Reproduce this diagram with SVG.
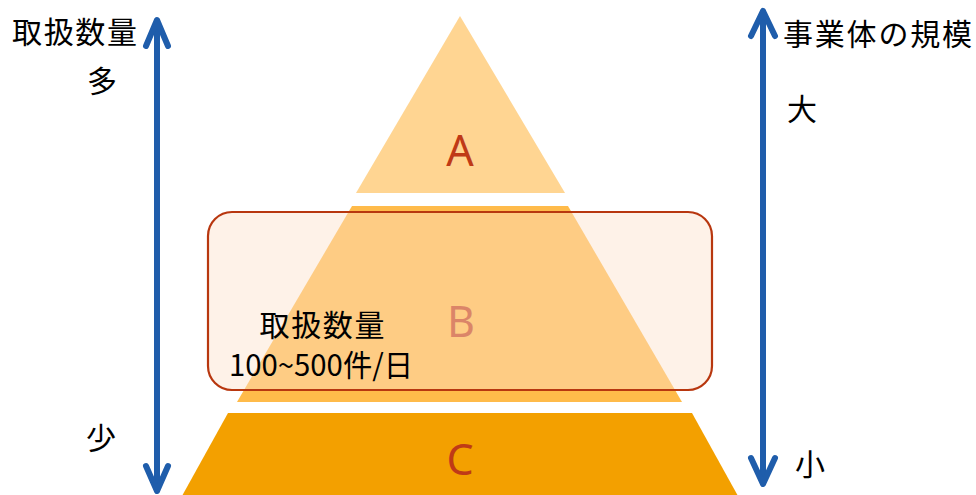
<svg xmlns="http://www.w3.org/2000/svg" width="976" height="495" viewBox="0 0 976 495">
  <style>
    .jp { font-family: "Noto Sans CJK JP", "Noto Sans", sans-serif; font-size: 30px; fill: #000000; }
    .lv { font-family: "Noto Sans", "Open Sans", "Liberation Sans", sans-serif; font-size: 43px; fill: #BF3A17; text-anchor: middle; }
    .arrow { fill: none; stroke: #1F5DAB; stroke-width: 6; stroke-linecap: round; stroke-linejoin: round; }
  </style>
  <rect x="0" y="0" width="976" height="495" fill="#FFFFFF"/>

  <g id="node-A">
    <polygon points="460,16 565,193 356,193" fill="#FFD592"/>
    <text class="lv" x="460" y="166">A</text>
  </g>

  <g id="node-B">
    <polygon points="352,206 568,206 682,402 237,402" fill="#FFBB4A"/>
    <text class="lv" x="461" y="337">B</text>
  </g>

  <g id="node-C">
    <polygon points="228,413 692,413 738,496 182,496" fill="#F3A000"/>
    <text class="lv" x="460" y="475">C</text>
  </g>

  <g id="highlight">
    <rect x="208" y="212" width="504" height="178" rx="24" ry="24" fill="#FCE2CD" fill-opacity="0.45" stroke="#B8370F" stroke-width="2.2"/>
    <text class="jp" x="322" y="336" text-anchor="middle" textLength="125" lengthAdjust="spacing">取扱数量</text>
    <text class="jp" x="321" y="376" text-anchor="middle" textLength="184" lengthAdjust="spacingAndGlyphs">100~500件/日</text>
  </g>

  <g id="connectors">
    <line class="arrow" x1="157" y1="21" x2="157" y2="490"/>
    <polyline class="arrow" points="146,46 157,20 168,46"/>
    <polyline class="arrow" points="146,466 157,491 168,466"/>
    <line class="arrow" x1="763" y1="12" x2="763" y2="483"/>
    <polyline class="arrow" points="751,36 763,11 775,36"/>
    <polyline class="arrow" points="751,458 763,484 775,458"/>
  </g>

  <g id="axis-left">
    <text class="jp" x="12" y="43" textLength="125" lengthAdjust="spacing">取扱数量</text>
    <text class="jp" x="102" y="92" text-anchor="middle">多</text>
    <text class="jp" x="101" y="449" text-anchor="middle">少</text>
  </g>

  <g id="axis-right">
    <text class="jp" x="783" y="45" textLength="189" lengthAdjust="spacing">事業体の規模</text>
    <text class="jp" x="802" y="120" text-anchor="middle">大</text>
    <text class="jp" x="810" y="475" text-anchor="middle">小</text>
  </g>
</svg>
